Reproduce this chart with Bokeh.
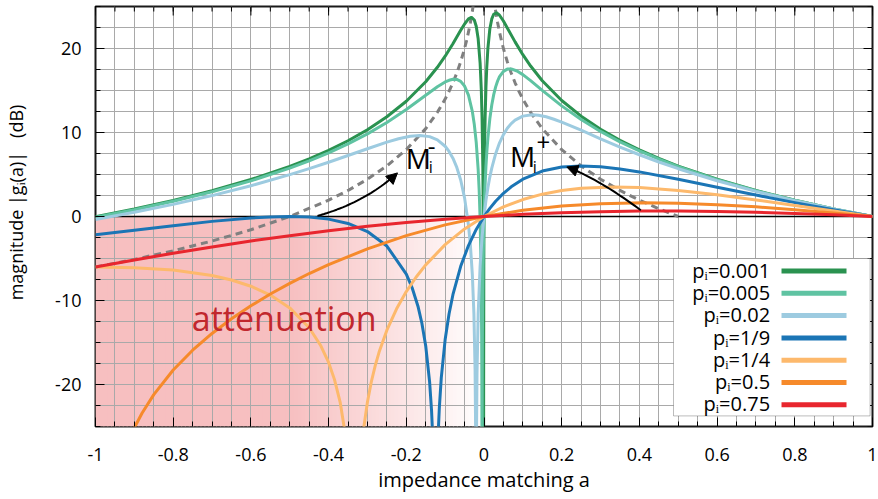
import numpy as np
from bokeh.plotting import figure
from bokeh.models import (Range1d, FixedTicker, CustomJSTickFormatter,
                          BoxAnnotation, Label, Span, Arrow, NormalHead)
from bokeh.embed import file_html
from bokeh.resources import INLINE

FONT = "Open Sans"

# ---------------------------------------------------------------------------
# magnitude |g_i(a)| in dB against the impedance matching a, one curve per p_i
# ---------------------------------------------------------------------------
a_p001 = [-1, -0.9, -0.8, -0.7, -0.6, -0.5, -0.45, -0.4, -0.35, -0.3, -0.25, -0.2,
          -0.15, -0.12, -0.1, -0.08, -0.06, -0.05, -0.04, -0.032, -0.025, -0.02,
          -0.015, -0.01, -0.007, -0.005, -0.003, -0.002, -0.0015, -0.0011, -0.00105,
          -0.001, -0.00095, -0.0009, -0.0005, 0, 0.001, 0.002, 0.003, 0.005, 0.007,
          0.01, 0.015, 0.02, 0.025, 0.032, 0.04, 0.05, 0.06, 0.08, 0.1, 0.12, 0.15,
          0.2, 0.25, 0.3, 0.35, 0.4, 0.45, 0.5, 0.6, 0.7, 0.8, 0.9, 1]
db_p001 = [-0.02, 0.89, 1.91, 3.07, 4.40, 5.97, 6.87, 7.88, 9.02, 10.33, 11.87, 13.72,
           16.04, 17.76, 19.08, 20.57, 22.16, 22.92, 23.52, 23.70, 23.39, 22.65,
           21.16, 18.26, 15.15, 11.83, 5.94, -0.03, -6.04, -20.0, -26.0,
           -40.0, -26.0, -20.0, -6.02, 0.0, 6.01, 9.51, 11.96, 15.35, 17.65,
           20.0, 22.32, 23.52, 24.08, 24.25, 23.96, 23.27, 22.45, 20.79, 19.26, 17.91, 16.16,
           13.81, 11.94, 10.39, 9.07, 7.93, 6.91, 6.00, 4.43, 3.09, 1.94, 0.91, 0.0]

a_p005 = [-1, -0.9, -0.8, -0.7, -0.6, -0.5, -0.45, -0.4, -0.35, -0.3, -0.25, -0.2,
          -0.15, -0.12, -0.1, -0.09, -0.08, -0.07, -0.06, -0.05, -0.04, -0.03, -0.025,
          -0.02, -0.015, -0.0125, -0.01, -0.0075, -0.006, -0.0056, -0.0053, -0.005,
          -0.00475, -0.0045, -0.004, -0.0025, 0, 0.0025, 0.005, 0.0075, 0.01, 0.015,
          0.02, 0.025, 0.03, 0.035, 0.04, 0.05, 0.06, 0.07, 0.085, 0.1, 0.12, 0.15,
          0.2, 0.25, 0.3, 0.35, 0.4, 0.45, 0.5, 0.6, 0.7, 0.8, 0.9, 1]
db_p005 = [-0.09, 0.81, 1.82, 2.95, 4.24, 5.76, 6.63, 7.58, 8.64, 9.84, 11.19, 12.73,
           14.43, 15.44, 16.02, 16.22, 16.34, 16.32, 16.09, 15.53, 14.45, 12.50, 10.97,
           8.82, 5.57, 3.18, -0.26, -6.25, -14.31, -18.89, -25.29, -40.0,
           -25.27, -19.65, -13.84, -5.99, 0.0, 3.50, 5.96, 7.84, 9.34, 11.63,
           13.28, 14.51, 15.43, 16.13, 16.65, 17.28, 17.55, 17.57, 17.32, 16.89, 16.17, 15.01,
           13.17, 11.54, 10.13, 8.89, 7.80, 6.82, 5.93, 4.39, 3.07, 1.93, 0.91, 0.0]

a_p02 = [-1, -0.9, -0.8, -0.7, -0.6, -0.5, -0.45, -0.4, -0.35, -0.3, -0.25, -0.22,
         -0.19, -0.165, -0.14, -0.12, -0.1, -0.09, -0.08, -0.07, -0.06, -0.05, -0.04,
         -0.035, -0.03, -0.026, -0.023, -0.0215, -0.0204, -0.0195, -0.018, -0.015,
         -0.01, -0.005, 0, 0.005, 0.01, 0.015, 0.02, 0.03, 0.04, 0.05, 0.06, 0.07,
         0.08, 0.1, 0.124, 0.14, 0.16, 0.18, 0.2, 0.25, 0.3, 0.35, 0.4, 0.45, 0.5,
         0.6, 0.7, 0.8, 0.9, 1]
db_p02 = [-0.35, 0.50, 1.44, 2.49, 3.66, 4.98, 5.70, 6.46, 7.26, 8.07, 8.85, 9.25,
          9.55, 9.64, 9.51, 9.13, 8.36, 7.75, 6.94, 5.84, 4.35, 2.22, -1.01,
          -3.42, -6.93, -11.53, -18.15, -25.63, -40.0, -27.19, -18.70, -11.63,
          -5.89, -2.45, 0.0, 1.89, 3.42, 4.69, 5.76, 7.48, 8.77, 9.75, 10.50, 11.06,
          11.47, 11.95, 12.12, 12.06, 11.87, 11.58, 11.24, 10.27, 9.25, 8.27, 7.35, 6.49, 5.69,
          4.25, 2.99, 1.88, 0.89, 0.0]

a_p19 = [-1, -0.9, -0.8, -0.7, -0.6, -0.55, -0.5, -0.45, -0.4, -0.35, -0.3, -0.25,
         -0.2, -0.185, -0.17, -0.16, -0.15, -0.14, -0.135, -0.132, -0.125, -0.118,
         -0.115, -0.11, -0.1, -0.09, -0.08, -0.06, -0.04, -0.02, 0, 0.015, 0.03,
         0.05, 0.07, 0.1, 0.15, 0.2, 0.25, 0.3, 0.35, 0.4, 0.5, 0.6, 0.7, 0.8, 0.9, 1]
db_p19 = [-2.18, -1.63, -1.09, -0.58, -0.18, -0.05, 0.0, -0.07, -0.31, -0.83, -1.79, -3.52,
          -6.85, -8.48, -10.68, -12.68, -15.42, -19.68, -23.12, -26.17, -40.0, -25.95,
          -22.81, -19.22, -14.65, -11.60, -9.31, -5.93, -3.46, -1.54, 0.0, 0.97, 1.81,
          2.75, 3.53, 4.44, 5.41, 5.89, 6.02, 5.92, 5.66, 5.31, 4.44, 3.49, 2.55, 1.65, 0.80, 0.0]

a_p14 = [-1, -0.9, -0.8, -0.7, -0.65, -0.6, -0.55, -0.5, -0.45, -0.42, -0.4, -0.385,
         -0.37, -0.355, -0.3333, -0.31, -0.3, -0.29, -0.28, -0.27, -0.25, -0.225, -0.2,
         -0.175, -0.15, -0.1, -0.05, 0, 0.05, 0.1, 0.15, 0.2, 0.25, 0.3333, 0.4, 0.5,
         0.6, 0.7, 0.8, 0.9, 1]
db_p14 = [-6.02, -6.10, -6.38, -7.03, -7.56, -8.30, -9.35, -10.88, -13.24, -15.39, -17.38, -19.39,
          -22.16, -26.53, -40.0, -25.30, -22.08, -19.67, -17.75, -16.14, -13.53, -10.99, -8.94,
          -7.23, -5.76, -3.35, -1.48, 0.0, 1.15, 2.02, 2.66, 3.10, 3.37, 3.52, 3.44, 3.10,
          2.58, 1.97, 1.32, 0.66, 0.0]

a_p50 = [-0.92, -0.9, -0.88, -0.85, -0.8, -0.75, -0.7, -0.65, -0.6, -0.55, -0.5, -0.45,
         -0.4, -0.3, -0.2, -0.1, 0, 0.1, 0.2, 0.3, 0.41, 0.5, 0.6, 0.7, 0.8, 0.9, 1]
db_p50 = [-27.26, -25.15, -23.40, -21.20, -18.28, -15.92, -13.92, -12.18, -10.63, -9.23, -7.96, -6.79,
          -5.73, -3.85, -2.28, -1.00, 0.0, 0.74, 1.24, 1.53, 1.63, 1.58, 1.41, 1.15, 0.81, 0.42, 0.0]

a_p75 = [-1, -0.9, -0.8, -0.7, -0.6, -0.5, -0.4, -0.3, -0.2, -0.1, 0,
         0.1, 0.2, 0.3, 0.4, 0.5, 0.6, 0.7, 0.8, 0.9, 1]
db_p75 = [-6.02, -5.17, -4.37, -3.62, -2.92, -2.28, -1.69, -1.17, -0.71, -0.32, 0.0,
          0.26, 0.45, 0.57, 0.64, 0.64, 0.60, 0.51, 0.37, 0.20, 0.0]

# loci of the maxima M_i^- (a < 0) and M_i^+ (a > 0)
a_mminus = [-1, -0.9, -0.8, -0.7, -0.6, -0.5, -0.4, -0.35, -0.3, -0.25, -0.2, -0.15,
            -0.12, -0.1, -0.09, -0.08, -0.07, -0.06, -0.05, -0.045, -0.04, -0.035, -0.03, -0.025]
db_mminus = [-6.02, -5.11, -4.08, -2.92, -1.58, 0.00, 1.94, 3.10, 4.44, 6.02, 7.96, 10.46,
             12.40, 13.98, 14.89, 15.92, 17.08, 18.42, 20.00, 20.92, 21.94, 23.10, 24.44, 26.02]
a_mplus = [0.025, 0.03, 0.035, 0.04, 0.045, 0.05, 0.06, 0.07, 0.08, 0.09, 0.1, 0.12,
           0.15, 0.2, 0.25, 0.3, 0.35, 0.4, 0.45, 0.5]
db_mplus = [26.02, 24.44, 23.10, 21.94, 20.92, 20.00, 18.42, 17.08, 15.92, 14.89, 13.98, 12.40,
            10.46, 7.96, 6.02, 4.44, 3.10, 1.94, 0.92, 0.00]

labels = ["pᵢ=0.001", "pᵢ=0.005", "pᵢ=0.02", "pᵢ=1/9", "pᵢ=1/4", "pᵢ=0.5", "pᵢ=0.75"]
colors = ["#2a9250", "#5fc3a2", "#9dcbe0", "#1b75b5", "#fdb96c", "#f68a2b", "#e8262e"]
curves = [(a_p001, db_p001), (a_p005, db_p005), (a_p02, db_p02), (a_p19, db_p19),
          (a_p14, db_p14), (a_p50, db_p50), (a_p75, db_p75)]

x_ticks = [-1, -0.8, -0.6, -0.4, -0.2, 0, 0.2, 0.4, 0.6, 0.8, 1]
y_ticks = [-20, -10, 0, 10, 20]
x_minor = [round(-1 + 0.05 * k, 2) for k in range(41)]
y_minor = [-25 + 2.5 * k for k in range(21)]

# ---------------------------------------------------------------------------
X0, X1, Y0, Y1 = -1, 1, -25, 25
FRAME_W, FRAME_H = 777, 420
PX_X = FRAME_W / (X1 - X0)   # pixels per unit of a
PX_Y = FRAME_H / (Y1 - Y0)   # pixels per dB

p = figure(width=878, height=499, output_backend="svg", toolbar_location=None,
           x_range=Range1d(X0, X1), y_range=Range1d(Y0, Y1),
           min_border_left=95, min_border_right=6, min_border_top=6, min_border_bottom=73,
           background_fill_color="white", border_fill_color="white")
p.outline_line_color = "#1a1a1a"
p.outline_line_width = 2

x_ticker = FixedTicker(ticks=x_ticks, minor_ticks=x_minor)
y_ticker = FixedTicker(ticks=y_ticks, minor_ticks=y_minor)
fmt = CustomJSTickFormatter(code="return tick.toString();")

for ax, ticker in ((p.xaxis[0], x_ticker), (p.yaxis[0], y_ticker)):
    ax.ticker = ticker
    ax.formatter = fmt
    ax.axis_line_color = None
    ax.major_tick_in = 9
    ax.major_tick_out = 0
    ax.minor_tick_in = 5
    ax.minor_tick_out = 0
    ax.major_tick_line_color = "black"
    ax.minor_tick_line_color = "black"
    ax.major_label_text_font = FONT
    ax.major_label_text_font_size = "18px"
    ax.major_label_text_color = "black"
    ax.axis_label_text_font = FONT
    ax.axis_label_text_font_style = "normal"
    ax.axis_label_text_color = "black"

xax = p.xaxis[0]
yax = p.yaxis[0]
xax.axis_label = "impedance matching a"
xax.axis_label_text_font_size = "20px"
xax.major_label_standoff = 21
xax.axis_label_standoff = 2
yax.axis_label = "\u00a0" * 6 + "magnitude |gᵢ(a)|\u00a0\u00a0\u00a0(dB)"
yax.axis_label_text_font_size = "18px"
yax.major_label_standoff = 14
yax.axis_label_standoff = 24

for g, t in ((p.xgrid[0], x_ticker), (p.ygrid[0], y_ticker)):
    g.ticker = t
    g.grid_line_color = "#a9a9a9"
    g.grid_line_width = 1
    g.minor_grid_line_color = "#a9a9a9"
    g.minor_grid_line_width = 1

# attenuation region: pink fading to white towards a = 0
fade_from = -0.5
edges = np.linspace(-1.0, 0.0, 101)
pink = np.array([247, 191, 192])
fill = []
for l, r in zip(edges[:-1], edges[1:]):
    t = float(np.clip(((l + r) / 2 - fade_from) / (0 - fade_from), 0, 1))
    c = pink + (255 - pink) * t
    fill.append("#%02x%02x%02x" % tuple(int(round(v)) for v in c))
p.quad(left=edges[:-1], right=np.minimum(edges[1:] + 0.003, 0), bottom=Y0, top=0,
       fill_color=fill, line_color=None, level="image")

p.add_layout(Span(location=0, dimension="width", line_color="black", line_width=1.5,
                  level="underlay"))

# inward ticks mirrored on the top and right edges of the frame
top_x = x_ticks + x_minor
top_len = [9 / PX_Y] * len(x_ticks) + [5 / PX_Y] * len(x_minor)
p.segment(x0=top_x, y0=[Y1] * len(top_x), x1=top_x, y1=[Y1 - d for d in top_len],
          line_color="black", line_width=1)
right_y = y_ticks + y_minor
right_len = [9 / PX_X] * len(y_ticks) + [5 / PX_X] * len(y_minor)
p.segment(x0=[X1] * len(right_y), y0=right_y, x1=[X1 - d for d in right_len], y1=right_y,
          line_color="black", line_width=1)

p.add_layout(Label(x=-0.752, y=-12.07, text="attenuation", text_font=FONT,
                   text_font_size="34px", text_color="#c1272d", text_baseline="alphabetic"))

# maxima loci (dashed)
for xs, ys in ((a_mminus, db_mminus), (a_mplus, db_mplus)):
    p.line(xs, ys, line_color="#808080", line_width=3, line_dash="7 5")

for (xs, ys), c in zip(curves, colors):
    p.line(xs, ys, line_color=c, line_width=3, line_join="round")

# curved arrows pointing at the maxima loci
arrows = [(-0.4286, 0.07, -0.3055, 1.66, -0.2227, 5.19),
          (0.4036, 0.75, 0.2931, 4.53, 0.2131, 5.90)]
tt = np.linspace(0, 1, 30)
for x0, y0, cx, cy, x1, y1 in arrows:
    bx = (1 - tt) ** 2 * x0 + 2 * (1 - tt) * tt * cx + tt ** 2 * x1
    by = (1 - tt) ** 2 * y0 + 2 * (1 - tt) * tt * cy + tt ** 2 * y1
    p.line(bx[:-2], by[:-2], line_color="black", line_width=2)
    p.add_layout(Arrow(end=NormalHead(size=11, fill_color="black", line_color="black"),
                       x_start=x1 - 0.15 * (x1 - cx), y_start=y1 - 0.15 * (y1 - cy),
                       x_end=x1, y_end=y1, line_alpha=0))

for x, y, txt, size in ((-0.2017, 6.91, "M", "28px"), (-0.1421, 5.86, "i", "16px"),
                        (-0.1447, 8.36, "-", "24px"), (0.0669, 7.21, "M", "28px"),
                        (0.1256, 5.86, "i", "16px"), (0.1349, 8.79, "+", "24px")):
    p.add_layout(Label(x=x, y=y, text=txt, text_font=FONT, text_font_size=size,
                       text_color="black", text_baseline="alphabetic"))

# legend: label on the left, line sample on the right
p.add_layout(BoxAnnotation(left=0.4878, right=0.9938, top=-5.0, bottom=-23.74,
                           fill_color="white", fill_alpha=1, line_color="#222222",
                           line_width=1))
rows = [-6.5 - 2.65 * k for k in range(len(labels))]
for lab, yy in zip(labels, rows):
    p.add_layout(Label(x=0.7364, y=yy + 0.08, text=lab, text_font=FONT,
                       text_font_size="20px", text_color="black", text_align="right",
                       text_baseline="alphabetic"))
p.segment(x0=[0.7658] * len(rows), y0=rows, x1=[0.9331] * len(rows), y1=rows,
          line_color=colors, line_width=5, level="overlay")

open("out.html", "w").write(file_html(p, INLINE))
